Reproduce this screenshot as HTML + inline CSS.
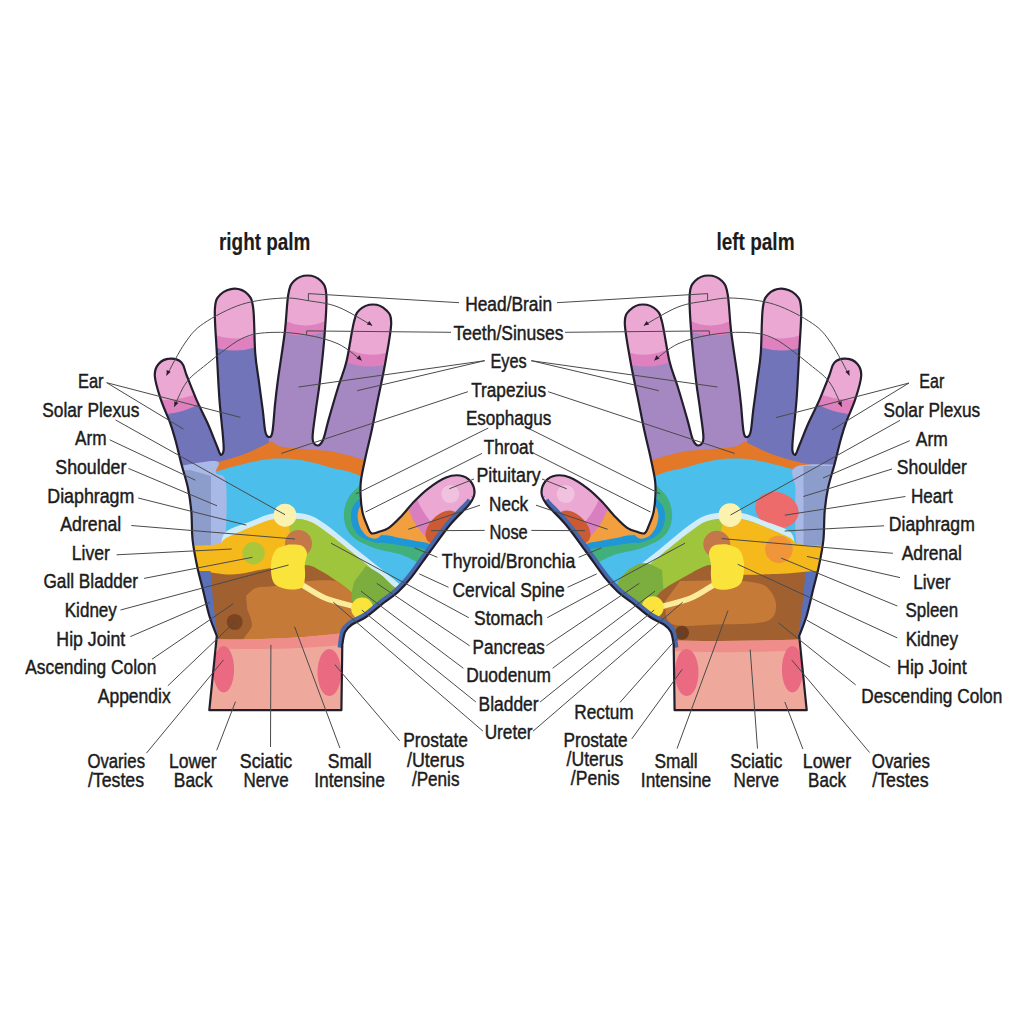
<!DOCTYPE html><html><head><meta charset="utf-8"><style>html,body{margin:0;padding:0;background:#fff;}svg{display:block;}text{font-family:"Liberation Sans",sans-serif;fill:#1c1c1c;stroke:#1c1c1c;stroke-width:0.45px;}</style></head><body>
<svg width="1024" height="1015" viewBox="0 0 1024 1015">
<rect width="1024" height="1015" fill="#fff"/>
<defs><clipPath id="cl"><path d="M209.3 710.2 L216.8 636 C215.6 632.6 211.7 623.7 209.3 615.8 C207.0 607.9 204.7 596.9 202.7 588.8 C200.7 580.7 199.0 575.1 197.3 567.0 C195.6 558.9 193.6 549.3 192.6 540.0 C191.6 530.7 192.1 519.8 191.3 511.0 C190.5 502.2 189.5 495.2 187.8 487.3 C186.1 479.4 183.4 471.5 181.3 463.6 C179.2 455.7 177.3 446.8 175.4 440.0 C173.5 433.2 172.6 429.6 170.1 422.8 C167.6 416.0 163.2 406.9 160.7 399.1 C158.1 391.3 155.2 381.9 154.8 376.0 C154.5 370.1 156.1 366.9 158.6 364.0 C161.1 361.1 166.0 358.9 169.8 358.7 C173.6 358.4 178.7 359.7 181.5 362.5 C184.3 365.3 184.2 369.4 186.7 375.5 C189.1 381.6 192.8 391.2 196.2 399.1 C199.6 407.0 204.0 415.2 207.4 422.8 C210.8 430.4 214.3 439.7 216.5 445.0 C218.7 450.3 219.3 453.6 220.5 454.5 C221.7 455.4 223.2 453.8 223.6 450.5 C224.0 447.2 223.5 443.2 222.8 434.6 C222.1 426.0 220.4 412.6 219.4 399.0 C218.4 385.4 217.6 367.8 216.8 352.8 C216.1 337.8 214.3 318.7 214.9 309.0 C215.5 299.3 217.1 297.9 220.4 294.5 C223.7 291.1 230.0 288.6 234.6 288.6 C239.2 288.6 244.9 291.1 248.0 294.5 C251.1 297.9 252.1 299.3 253.3 309.0 C254.5 318.7 254.3 341.0 255.2 352.8 C256.1 364.6 257.4 370.5 258.7 380.0 C259.9 389.5 261.6 401.0 262.7 409.6 C263.8 418.2 264.3 426.9 265.3 431.5 C266.3 436.1 267.4 436.7 268.6 436.9 C269.8 437.1 271.2 437.9 272.3 432.5 C273.4 427.1 274.1 413.4 275.0 404.6 C275.9 395.9 276.3 392.1 277.9 380.0 C279.5 367.9 283.1 346.2 284.8 332.0 C286.5 317.8 286.8 303.0 288.3 294.5 C289.8 286.0 290.8 284.2 294.0 281.0 C297.2 277.8 303.1 275.5 307.6 275.5 C312.1 275.5 317.9 277.8 321.0 281.0 C324.1 284.2 325.7 286.0 326.3 294.5 C326.9 303.0 325.9 317.7 324.8 332.0 C323.8 346.3 321.5 367.4 320.0 380.3 C318.5 393.2 317.1 399.9 315.9 409.6 C314.7 419.3 312.3 432.5 312.6 438.5 C312.9 444.5 315.7 445.3 317.5 445.5 C319.3 445.7 321.3 443.9 323.2 439.5 C325.1 435.1 326.1 428.3 328.7 419.4 C331.2 410.5 335.5 395.7 338.5 386.0 C341.5 376.3 344.1 371.5 346.6 361.0 C349.1 350.5 351.6 331.5 353.7 323.0 C355.8 314.5 356.2 313.1 359.4 310.0 C362.6 306.9 368.6 304.5 373.0 304.5 C377.4 304.5 383.0 306.9 386.0 310.0 C389.0 313.1 391.3 314.5 391.2 323.0 C391.1 331.5 387.7 348.8 385.6 361.0 C383.5 373.2 380.9 384.6 378.5 396.4 C376.1 408.2 373.5 422.0 371.4 431.8 C369.3 441.6 367.7 447.0 366.0 455.0 C364.3 463.0 361.9 473.2 361.0 480.0 C360.1 486.8 360.4 490.6 360.6 496.0 C360.9 501.4 361.4 507.2 362.5 512.2 C363.6 517.2 365.8 522.4 367.3 525.9 C368.8 529.4 369.4 532.2 371.3 533.2 C373.2 534.2 376.1 532.7 379.0 531.8 C381.9 530.9 385.2 530.3 388.8 527.9 C392.4 525.5 396.3 521.5 400.5 517.1 C404.7 512.7 409.6 506.2 414.2 501.5 C418.8 496.8 422.6 492.8 427.9 488.8 C433.2 484.8 440.6 479.7 446.0 477.5 C451.4 475.3 455.9 474.9 460.0 475.5 C464.1 476.1 468.1 478.4 470.5 481.3 C472.9 484.2 474.6 489.1 474.5 492.8 C474.4 496.6 473.7 498.5 469.7 503.8 C465.7 509.1 457.0 516.5 450.3 524.5 C443.6 532.5 436.1 543.3 429.7 552.0 C423.3 560.7 417.0 570.2 411.7 576.9 C406.4 583.6 402.7 587.6 398.0 592.0 C393.3 596.4 388.8 598.8 383.5 603.0 C378.2 607.2 371.2 613.4 366.0 617.0 C360.8 620.6 355.5 622.0 352.0 624.5 C348.5 627.0 346.6 628.6 345.0 632.0 C343.4 635.4 342.8 642.5 342.3 644.6 L341.4 710.2 Z"/></clipPath></defs>
<g clip-path="url(#cl)"><rect x="140" y="260" width="350" height="460" fill="#7274BA"/>
<path d="M268.6 436 L272 480 L490 480 L490 260 L272 260 Z" fill="#A587C2"/>
<path d="M150 411 Q171 420 205 401 L205 301 L150 311 Z" fill="#DE81BE"/>
<path d="M150 398 Q173 404 205 391 L205 291 L150 298 Z" fill="#EBA8D2"/>
<path d="M208 345 Q235 356 262 345 L262 245 L208 245 Z" fill="#DE81BE"/>
<path d="M208 332 Q235 345 262 332 L262 232 L208 232 Z" fill="#EBA8D2"/>
<path d="M280 332 Q304 340 330 330 L330 230 L280 232 Z" fill="#DE81BE"/>
<path d="M280 318 Q306 333 331 318 L331 218 L280 218 Z" fill="#EBA8D2"/>
<path d="M342 360 Q365 372 396 362 L396 262 L342 260 Z" fill="#DE81BE"/>
<path d="M342 346 Q370 362 396 349 L396 249 L342 246 Z" fill="#EBA8D2"/>
<path d="M150 480 L200 466 Q240 458 258 448 Q267 444 271.5 441 Q276 446 283 447 Q300 449 330 451 Q350 455 370 462 L400 500 L150 500 Z" fill="#E27828"/>
<path d="M150.0 492.0 C160.9 488.6 197.4 476.8 215.6 471.5 C233.8 466.2 248.0 462.6 259.3 460.5 C270.7 458.4 275.6 458.4 283.7 458.6 C291.8 458.8 300.3 460.0 308.0 461.5 C315.7 463.0 320.5 464.6 330.0 467.4 C339.5 470.1 346.7 469.2 365.0 478.0 C383.3 486.8 427.5 496.3 440.0 520.0 C452.5 543.7 488.3 603.3 440.0 620.0 C391.7 636.7 198.3 620.0 150.0 620.0 Z" fill="#4BBEEB"/><path d="M150.0 472.0 C160.7 470.2 203.0 460.8 214.0 461.0 C225.0 461.2 214.0 469.5 216.0 473.0 C218.0 476.5 224.2 471.7 225.8 482.0 C227.4 492.3 226.4 524.5 225.8 535.0 C225.2 545.5 224.3 543.1 222.0 545.0 C219.7 546.9 224.0 546.2 212.0 546.5 C200.0 546.8 160.3 546.5 150.0 546.5 Z" fill="#A8B9E7"/>
<path d="M150 474 L190 470 L211 476 L211 546.5 L150 546.5 Z" fill="#8C9DCB"/>
<path d="M150.0 552.0 C160.3 552.0 199.4 555.3 212.0 552.0 C224.6 548.7 219.3 537.1 225.8 532.0 C232.3 526.9 242.8 524.5 251.0 521.3 C259.2 518.1 265.9 514.2 274.9 513.0 C283.9 511.8 296.6 512.2 305.0 514.0 C313.4 515.8 316.6 518.1 325.2 524.0 C333.8 529.9 347.5 542.0 356.7 549.4 C365.9 556.8 373.2 562.5 380.3 568.3 C387.4 574.1 391.0 577.0 399.3 584.0 C407.6 591.0 424.9 587.3 430.0 610.0 C435.1 632.7 476.7 701.7 430.0 720.0 C383.3 738.3 196.7 720.0 150.0 720.0 Z" fill="#D0ECF8"/>
<path d="M150.0 545.0 C160.3 545.0 199.2 546.2 212.0 545.0 C224.8 543.8 220.5 540.5 227.0 537.5 C233.5 534.5 243.0 530.1 251.0 527.0 C259.0 523.9 266.0 520.2 275.0 519.0 C284.0 517.8 297.0 518.2 305.0 520.0 C313.0 521.8 314.8 523.8 323.0 529.5 C331.2 535.2 345.0 546.7 354.0 554.0 C363.0 561.3 370.0 567.7 377.0 573.5 C384.0 579.3 388.0 582.1 396.0 589.0 C404.0 595.9 420.2 593.2 425.0 615.0 C429.8 636.8 470.8 702.5 425.0 720.0 C379.2 737.5 195.8 720.0 150.0 720.0 Z" fill="#F6B91B"/>
<path d="M289.0 519.0 C291.7 519.2 299.3 518.2 305.0 520.0 C310.7 521.8 314.8 523.8 323.0 529.5 C331.2 535.2 345.0 546.7 354.0 554.0 C363.0 561.3 370.0 567.7 377.0 573.5 C384.0 579.3 390.5 583.8 396.0 589.0 C401.5 594.2 417.2 604.2 410.0 605.0 C402.8 605.8 365.1 597.9 353.0 594.0 C340.9 590.1 342.6 585.3 337.3 581.5 C332.1 577.7 326.9 574.0 321.5 571.3 C316.1 568.5 309.4 567.7 305.0 565.0 C300.6 562.3 297.5 560.0 295.0 555.0 C292.5 550.0 290.8 538.3 290.0 535.0 Z" fill="#9EC53B"/>
<path d="M150.0 571.0 C157.8 571.0 183.1 570.4 196.8 571.0 C210.5 571.6 220.2 574.9 232.0 574.5 C243.8 574.1 255.6 570.2 267.8 568.6 C280.0 567.0 296.1 564.5 305.0 565.0 C313.9 565.5 316.1 568.5 321.5 571.3 C326.9 574.0 332.1 577.7 337.3 581.5 C342.6 585.3 347.9 588.9 353.0 594.0 C358.1 599.1 361.8 604.3 368.0 612.0 C374.2 619.7 401.3 632.0 390.0 640.0 C378.7 648.0 340.0 656.7 300.0 660.0 C260.0 663.3 175.0 660.0 150.0 660.0 Z" fill="#A0602F"/>
<path d="M246.0 596.0 C247.7 594.7 251.2 589.7 256.0 588.0 C260.8 586.3 266.8 587.1 275.0 586.0 C283.2 584.9 295.2 582.4 305.0 581.5 C314.8 580.6 327.3 579.8 334.0 580.7 C340.7 581.6 341.8 584.8 345.0 587.0 C348.2 589.2 349.2 589.8 353.0 594.0 C356.8 598.2 365.2 602.7 368.0 612.0 C370.8 621.3 389.7 643.7 370.0 650.0 C350.3 656.3 269.7 654.2 250.0 650.0 C230.3 645.8 252.4 631.8 252.0 625.0 C251.6 618.2 248.1 612.0 247.3 609.4 Z" fill="#C67A38"/>
<path d="M366.0 566.0 C368.3 567.3 375.5 570.7 380.0 574.0 C384.5 577.3 389.3 582.7 393.0 586.0 C396.7 589.3 402.5 589.7 402.0 594.0 C401.5 598.3 396.2 608.7 390.0 612.0 C383.8 615.3 371.3 616.0 365.0 614.0 C358.7 612.0 353.8 605.3 352.0 600.0 C350.2 594.7 353.7 585.0 354.0 582.0 Z" fill="#7BAE3F"/>
<circle cx="234.7" cy="622" r="8" fill="#7A4520"/>
<path d="M150 571 L210.5 571 L213 600 L216 625 L219 640 L150 640 Z" fill="#5A70B8"/>
<circle cx="253.6" cy="553.2" r="11.2" fill="#AAC73B"/>
<circle cx="298.5" cy="543.5" r="13.5" fill="#C47849"/>
<path d="M304.0 586.0 C307.5 588.0 317.0 594.7 325.0 598.0 C333.0 601.3 347.5 604.7 352.0 606.0" fill="none" stroke="#FBEC9C" stroke-width="5.5" stroke-linecap="round" stroke-linejoin="round"/>
<path d="M289.0 544.5 C291.1 544.7 298.4 544.1 301.4 545.5 C304.4 546.9 306.3 549.6 306.9 552.8 C307.5 556.0 305.1 560.5 304.8 564.5 C304.5 568.5 305.5 573.2 305.0 577.0 C304.5 580.8 304.8 585.5 302.0 587.5 C299.2 589.5 292.7 590.0 288.0 589.3 C283.3 588.5 276.8 587.0 274.0 583.0 C271.2 579.0 270.7 570.5 271.0 565.0 C271.3 559.5 272.9 553.4 275.9 550.0 C278.9 546.6 286.8 545.4 289.0 544.5 Z" fill="#FAE43B"/>
<circle cx="362.2" cy="608.5" r="11" fill="#FAE43B"/>
<circle cx="285" cy="515.2" r="11.5" fill="#FCF2AF"/>
<path d="M150 637 Q270 644 360 631 L360 720 L150 720 Z" fill="#EFA99C"/>
<path d="M150 637 Q270 644 360 631 L360 643 Q270 654 150 645 Z" fill="#EE8D89"/><path d="M360.0 485.0 C358.2 487.0 351.7 492.5 349.0 497.0 C346.3 501.5 344.5 507.0 344.0 512.0 C343.5 517.0 344.3 522.7 346.0 527.0 C347.7 531.3 350.2 534.8 354.0 538.0 C357.8 541.2 364.5 544.0 369.0 546.0 C373.5 548.0 375.7 548.6 381.0 550.0 C386.3 551.4 395.3 552.7 401.0 554.5 C406.7 556.3 409.8 558.8 415.0 561.0 C420.2 563.2 427.8 572.3 432.0 568.0 C436.2 563.7 445.3 539.7 440.0 535.0 C434.7 530.3 411.7 540.0 400.0 540.0 C388.3 540.0 377.0 540.0 370.0 535.0 C363.0 530.0 360.0 514.2 358.0 510.0 Z" fill="#41B07B"/>
<path d="M362.0 497.0 C360.8 498.2 356.3 501.2 354.5 504.0 C352.7 506.8 351.2 510.2 351.0 514.0 C350.8 517.8 351.3 523.2 353.0 527.0 C354.7 530.8 357.3 534.4 361.0 537.0 C364.7 539.6 371.0 541.5 375.0 542.5 C379.0 543.5 380.0 542.4 385.0 543.0 C390.0 543.6 397.8 544.9 405.0 546.0 C412.2 547.1 422.2 548.8 428.0 549.5 C433.8 550.2 438.0 552.4 440.0 550.0 C442.0 547.6 446.7 537.3 440.0 535.0 C433.3 532.7 411.7 536.5 400.0 536.0 C388.3 535.5 376.7 535.5 370.0 532.0 C363.3 528.5 361.7 517.8 360.0 515.0 Z" fill="#1F97D6"/>
<path d="M361.0 505.0 C360.6 505.8 359.1 508.0 358.5 510.0 C357.9 512.0 357.4 514.3 357.6 517.1 C357.9 519.9 358.7 524.1 360.0 527.0 C361.3 529.9 363.6 532.9 365.4 534.7 C367.2 536.5 369.1 537.4 371.0 538.0 C372.9 538.6 374.9 538.9 377.1 538.3 C379.3 537.7 380.2 534.5 384.0 534.5 C387.8 534.5 393.2 536.7 400.0 538.0 C406.8 539.3 418.3 541.5 425.0 542.5 C431.7 543.5 436.7 549.4 440.0 544.0 C443.3 538.6 448.3 517.3 445.0 510.0 C441.7 502.7 429.2 498.3 420.0 500.0 C410.8 501.7 398.0 515.3 390.0 520.0 C382.0 524.7 375.0 526.7 372.0 528.0 Z" fill="#F2A03F"/>
<path d="M398 470 L409 510.7 Q415 527 428.3 539 L490 560 L490 440 Z" fill="#D97FC0"/>
<path d="M405 462 L418 501.4 Q423 513 431 522 L490 545 L490 440 Z" fill="#EAA8D3"/>
<circle cx="450.3" cy="494.1" r="9" fill="#F1C2DF"/>
<ellipse cx="442" cy="527" rx="20" ry="12" transform="rotate(-45 442 527)" fill="#CC5A32"/><ellipse cx="223.6" cy="669.3" rx="10.5" ry="23.2" fill="#EA6A82"/>
<ellipse cx="329.3" cy="672.5" rx="11.8" ry="23.6" fill="#EA6A82"/>
<path d="M471.5 501.0 C471.2 501.5 473.2 499.9 469.7 503.8 C466.2 507.7 457.0 516.5 450.3 524.5 C443.6 532.5 436.1 543.3 429.7 552.0 C423.3 560.7 417.0 570.2 411.7 576.9 C406.4 583.6 402.7 587.6 398.0 592.0 C393.3 596.4 388.8 598.8 383.5 603.0 C378.2 607.2 371.2 613.4 366.0 617.0 C360.8 620.6 355.5 622.0 352.0 624.5 C348.5 627.0 346.6 628.1 345.0 632.0 C343.4 635.9 342.8 645.3 342.3 648.0" fill="none" stroke="#4866AA" stroke-width="9.5" stroke-linecap="butt" stroke-linejoin="round"/></g><path d="M209.3 710.2 L216.8 636 C215.6 632.6 211.7 623.7 209.3 615.8 C207.0 607.9 204.7 596.9 202.7 588.8 C200.7 580.7 199.0 575.1 197.3 567.0 C195.6 558.9 193.6 549.3 192.6 540.0 C191.6 530.7 192.1 519.8 191.3 511.0 C190.5 502.2 189.5 495.2 187.8 487.3 C186.1 479.4 183.4 471.5 181.3 463.6 C179.2 455.7 177.3 446.8 175.4 440.0 C173.5 433.2 172.6 429.6 170.1 422.8 C167.6 416.0 163.2 406.9 160.7 399.1 C158.1 391.3 155.2 381.9 154.8 376.0 C154.5 370.1 156.1 366.9 158.6 364.0 C161.1 361.1 166.0 358.9 169.8 358.7 C173.6 358.4 178.7 359.7 181.5 362.5 C184.3 365.3 184.2 369.4 186.7 375.5 C189.1 381.6 192.8 391.2 196.2 399.1 C199.6 407.0 204.0 415.2 207.4 422.8 C210.8 430.4 214.3 439.7 216.5 445.0 C218.7 450.3 219.3 453.6 220.5 454.5 C221.7 455.4 223.2 453.8 223.6 450.5 C224.0 447.2 223.5 443.2 222.8 434.6 C222.1 426.0 220.4 412.6 219.4 399.0 C218.4 385.4 217.6 367.8 216.8 352.8 C216.1 337.8 214.3 318.7 214.9 309.0 C215.5 299.3 217.1 297.9 220.4 294.5 C223.7 291.1 230.0 288.6 234.6 288.6 C239.2 288.6 244.9 291.1 248.0 294.5 C251.1 297.9 252.1 299.3 253.3 309.0 C254.5 318.7 254.3 341.0 255.2 352.8 C256.1 364.6 257.4 370.5 258.7 380.0 C259.9 389.5 261.6 401.0 262.7 409.6 C263.8 418.2 264.3 426.9 265.3 431.5 C266.3 436.1 267.4 436.7 268.6 436.9 C269.8 437.1 271.2 437.9 272.3 432.5 C273.4 427.1 274.1 413.4 275.0 404.6 C275.9 395.9 276.3 392.1 277.9 380.0 C279.5 367.9 283.1 346.2 284.8 332.0 C286.5 317.8 286.8 303.0 288.3 294.5 C289.8 286.0 290.8 284.2 294.0 281.0 C297.2 277.8 303.1 275.5 307.6 275.5 C312.1 275.5 317.9 277.8 321.0 281.0 C324.1 284.2 325.7 286.0 326.3 294.5 C326.9 303.0 325.9 317.7 324.8 332.0 C323.8 346.3 321.5 367.4 320.0 380.3 C318.5 393.2 317.1 399.9 315.9 409.6 C314.7 419.3 312.3 432.5 312.6 438.5 C312.9 444.5 315.7 445.3 317.5 445.5 C319.3 445.7 321.3 443.9 323.2 439.5 C325.1 435.1 326.1 428.3 328.7 419.4 C331.2 410.5 335.5 395.7 338.5 386.0 C341.5 376.3 344.1 371.5 346.6 361.0 C349.1 350.5 351.6 331.5 353.7 323.0 C355.8 314.5 356.2 313.1 359.4 310.0 C362.6 306.9 368.6 304.5 373.0 304.5 C377.4 304.5 383.0 306.9 386.0 310.0 C389.0 313.1 391.3 314.5 391.2 323.0 C391.1 331.5 387.7 348.8 385.6 361.0 C383.5 373.2 380.9 384.6 378.5 396.4 C376.1 408.2 373.5 422.0 371.4 431.8 C369.3 441.6 367.7 447.0 366.0 455.0 C364.3 463.0 361.9 473.2 361.0 480.0 C360.1 486.8 360.4 490.6 360.6 496.0 C360.9 501.4 361.4 507.2 362.5 512.2 C363.6 517.2 365.8 522.4 367.3 525.9 C368.8 529.4 369.4 532.2 371.3 533.2 C373.2 534.2 376.1 532.7 379.0 531.8 C381.9 530.9 385.2 530.3 388.8 527.9 C392.4 525.5 396.3 521.5 400.5 517.1 C404.7 512.7 409.6 506.2 414.2 501.5 C418.8 496.8 422.6 492.8 427.9 488.8 C433.2 484.8 440.6 479.7 446.0 477.5 C451.4 475.3 455.9 474.9 460.0 475.5 C464.1 476.1 468.1 478.4 470.5 481.3 C472.9 484.2 474.6 489.1 474.5 492.8 C474.4 496.6 473.7 498.5 469.7 503.8 C465.7 509.1 457.0 516.5 450.3 524.5 C443.6 532.5 436.1 543.3 429.7 552.0 C423.3 560.7 417.0 570.2 411.7 576.9 C406.4 583.6 402.7 587.6 398.0 592.0 C393.3 596.4 388.8 598.8 383.5 603.0 C378.2 607.2 371.2 613.4 366.0 617.0 C360.8 620.6 355.5 622.0 352.0 624.5 C348.5 627.0 346.6 628.6 345.0 632.0 C343.4 635.4 342.8 642.5 342.3 644.6 L341.4 710.2 Z" fill="none" stroke="#221E2C" stroke-width="2.2" stroke-linejoin="round"/>
<g transform="translate(1016 0) scale(-1 1)"><g clip-path="url(#cl)"><rect x="140" y="260" width="350" height="460" fill="#7274BA"/>
<path d="M268.6 436 L272 480 L490 480 L490 260 L272 260 Z" fill="#A587C2"/>
<path d="M150 411 Q171 420 205 401 L205 301 L150 311 Z" fill="#DE81BE"/>
<path d="M150 398 Q173 404 205 391 L205 291 L150 298 Z" fill="#EBA8D2"/>
<path d="M208 345 Q235 356 262 345 L262 245 L208 245 Z" fill="#DE81BE"/>
<path d="M208 332 Q235 345 262 332 L262 232 L208 232 Z" fill="#EBA8D2"/>
<path d="M280 332 Q304 340 330 330 L330 230 L280 232 Z" fill="#DE81BE"/>
<path d="M280 318 Q306 333 331 318 L331 218 L280 218 Z" fill="#EBA8D2"/>
<path d="M342 360 Q365 372 396 362 L396 262 L342 260 Z" fill="#DE81BE"/>
<path d="M342 346 Q370 362 396 349 L396 249 L342 246 Z" fill="#EBA8D2"/>
<path d="M150 480 L200 466 Q240 458 258 448 Q267 444 271.5 441 Q276 446 283 447 Q300 449 330 451 Q350 455 370 462 L400 500 L150 500 Z" fill="#E27828"/>
<path d="M150.0 492.0 C160.9 488.6 197.4 476.8 215.6 471.5 C233.8 466.2 248.0 462.6 259.3 460.5 C270.7 458.4 275.6 458.4 283.7 458.6 C291.8 458.8 300.3 460.0 308.0 461.5 C315.7 463.0 320.5 464.6 330.0 467.4 C339.5 470.1 346.7 469.2 365.0 478.0 C383.3 486.8 427.5 496.3 440.0 520.0 C452.5 543.7 488.3 603.3 440.0 620.0 C391.7 636.7 198.3 620.0 150.0 620.0 Z" fill="#4BBEEB"/><path d="M150.0 466.0 C161.3 466.0 206.2 462.0 218.0 466.0 C229.8 470.0 220.1 478.5 220.5 490.0 C220.9 501.5 220.9 525.8 220.5 535.0 C220.1 544.2 219.4 543.1 218.0 545.0 C216.6 546.9 223.3 546.2 212.0 546.5 C200.7 546.8 160.3 546.5 150.0 546.5 Z" fill="#A8B9E7"/>
<path d="M150 466 L212.5 466 L212.5 546.5 L150 546.5 Z" fill="#8C9DCB"/>
<ellipse cx="239" cy="509.8" rx="22" ry="17.5" transform="rotate(-18 239 509.8)" fill="#EE6B6B"/>
<path d="M150.0 552.0 C160.3 552.0 199.4 555.3 212.0 552.0 C224.6 548.7 219.3 537.1 225.8 532.0 C232.3 526.9 242.8 524.5 251.0 521.3 C259.2 518.1 265.9 514.2 274.9 513.0 C283.9 511.8 296.6 512.2 305.0 514.0 C313.4 515.8 316.6 518.1 325.2 524.0 C333.8 529.9 347.5 542.0 356.7 549.4 C365.9 556.8 373.2 562.5 380.3 568.3 C387.4 574.1 391.0 577.0 399.3 584.0 C407.6 591.0 424.9 587.3 430.0 610.0 C435.1 632.7 476.7 701.7 430.0 720.0 C383.3 738.3 196.7 720.0 150.0 720.0 Z" fill="#D0ECF8"/>
<path d="M150.0 545.0 C160.3 545.0 199.2 546.2 212.0 545.0 C224.8 543.8 220.5 540.5 227.0 537.5 C233.5 534.5 243.0 530.1 251.0 527.0 C259.0 523.9 266.0 520.2 275.0 519.0 C284.0 517.8 297.0 518.2 305.0 520.0 C313.0 521.8 314.8 523.8 323.0 529.5 C331.2 535.2 345.0 546.7 354.0 554.0 C363.0 561.3 370.0 567.7 377.0 573.5 C384.0 579.3 388.0 582.1 396.0 589.0 C404.0 595.9 420.2 593.2 425.0 615.0 C429.8 636.8 470.8 702.5 425.0 720.0 C379.2 737.5 195.8 720.0 150.0 720.0 Z" fill="#9EC53B"/>
<path d="M150.0 545.0 C160.3 545.0 199.2 546.2 212.0 545.0 C224.8 543.8 220.5 540.5 227.0 537.5 C233.5 534.5 243.0 530.1 251.0 527.0 C259.0 523.9 268.2 520.5 275.0 519.0 C281.8 517.5 289.2 508.7 292.0 518.0 C294.8 527.3 300.7 565.5 292.0 575.0 C283.3 584.5 256.0 575.5 240.0 575.0 C224.0 574.5 211.0 572.5 196.0 572.0 C181.0 571.5 157.7 572.0 150.0 572.0 Z" fill="#F6B91B"/>
<path d="M354.0 570.0 C357.0 568.8 366.0 562.7 372.0 563.0 C378.0 563.3 385.3 567.8 390.0 572.0 C394.7 576.2 399.2 583.0 400.0 588.0 C400.8 593.0 400.3 598.0 395.0 602.0 C389.7 606.0 375.2 612.7 368.0 612.0 C360.8 611.3 354.7 600.3 352.0 598.0 Z" fill="#7BAE3F"/>
<path d="M150.0 571.0 C157.8 571.0 181.8 570.5 196.8 571.0 C211.8 571.5 224.1 573.5 240.0 574.0 C255.9 574.5 281.0 575.5 292.0 574.0 C303.0 572.5 299.7 564.7 306.0 565.0 C312.3 565.3 321.7 571.4 330.0 576.0 C338.3 580.6 349.7 586.4 356.0 592.4 C362.3 598.4 362.3 604.1 368.0 612.0 C373.7 619.9 401.3 632.0 390.0 640.0 C378.7 648.0 340.0 656.7 300.0 660.0 C260.0 663.3 175.0 660.0 150.0 660.0 Z" fill="#A0602F"/>
<path d="M336.0 581.0 C330.0 580.9 310.5 580.5 300.0 580.5 C289.5 580.5 281.3 580.0 273.0 581.0 C264.7 582.0 255.5 582.5 250.0 586.5 C244.5 590.5 240.0 599.0 240.0 604.8 C240.0 610.6 240.0 618.2 250.0 621.5 C260.0 624.8 284.3 624.1 300.0 624.5 C315.7 624.9 335.5 627.8 344.0 624.0 C352.5 620.2 349.8 605.2 351.0 601.5 Z" fill="#C67A38"/>
<circle cx="334" cy="632.7" r="7" fill="#6E3E1E"/>
<path d="M150 572 L210.5 572 L213 600 L216 625 L219 640 L150 640 Z" fill="#5A70B8"/>
<circle cx="237.1" cy="549.2" r="13.8" fill="#F0953A"/>
<circle cx="299.2" cy="544.3" r="13.5" fill="#C47849"/>
<path d="M304.0 586.0 C307.5 588.0 317.0 594.7 325.0 598.0 C333.0 601.3 347.5 604.7 352.0 606.0" fill="none" stroke="#FBEC9C" stroke-width="5.5" stroke-linecap="round" stroke-linejoin="round"/>
<path d="M289.5 544.3 C291.6 544.5 299.1 544.1 302.0 545.5 C304.9 546.9 306.5 549.6 307.0 552.8 C307.5 556.0 305.3 560.5 305.0 564.5 C304.7 568.5 305.5 573.2 305.0 577.0 C304.5 580.8 304.8 585.4 302.0 587.5 C299.2 589.6 293.0 590.2 288.5 589.5 C284.0 588.8 277.8 587.1 275.0 583.0 C272.2 578.9 271.8 570.5 272.0 565.0 C272.2 559.5 273.6 553.5 276.5 550.0 C279.4 546.5 287.3 545.2 289.5 544.3 Z" fill="#FAE43B"/>
<circle cx="363.2" cy="607.3" r="11" fill="#FAE43B"/>
<circle cx="285.8" cy="515.1" r="11.8" fill="#FCF2AF"/>
<path d="M150 637 Q270 643 360 640 L360 720 L150 720 Z" fill="#EFA99C"/>
<path d="M150 637 Q270 643 360 640 L360 650 Q270 656 150 646 Z" fill="#EE8D89"/><path d="M360.0 485.0 C358.2 487.0 351.7 492.5 349.0 497.0 C346.3 501.5 344.5 507.0 344.0 512.0 C343.5 517.0 344.3 522.7 346.0 527.0 C347.7 531.3 350.2 534.8 354.0 538.0 C357.8 541.2 364.5 544.0 369.0 546.0 C373.5 548.0 375.7 548.6 381.0 550.0 C386.3 551.4 395.3 552.7 401.0 554.5 C406.7 556.3 409.8 558.8 415.0 561.0 C420.2 563.2 427.8 572.3 432.0 568.0 C436.2 563.7 445.3 539.7 440.0 535.0 C434.7 530.3 411.7 540.0 400.0 540.0 C388.3 540.0 377.0 540.0 370.0 535.0 C363.0 530.0 360.0 514.2 358.0 510.0 Z" fill="#41B07B"/>
<path d="M362.0 497.0 C360.8 498.2 356.3 501.2 354.5 504.0 C352.7 506.8 351.2 510.2 351.0 514.0 C350.8 517.8 351.3 523.2 353.0 527.0 C354.7 530.8 357.3 534.4 361.0 537.0 C364.7 539.6 371.0 541.5 375.0 542.5 C379.0 543.5 380.0 542.4 385.0 543.0 C390.0 543.6 397.8 544.9 405.0 546.0 C412.2 547.1 422.2 548.8 428.0 549.5 C433.8 550.2 438.0 552.4 440.0 550.0 C442.0 547.6 446.7 537.3 440.0 535.0 C433.3 532.7 411.7 536.5 400.0 536.0 C388.3 535.5 376.7 535.5 370.0 532.0 C363.3 528.5 361.7 517.8 360.0 515.0 Z" fill="#1F97D6"/>
<path d="M361.0 505.0 C360.6 505.8 359.1 508.0 358.5 510.0 C357.9 512.0 357.4 514.3 357.6 517.1 C357.9 519.9 358.7 524.1 360.0 527.0 C361.3 529.9 363.6 532.9 365.4 534.7 C367.2 536.5 369.1 537.4 371.0 538.0 C372.9 538.6 374.9 538.9 377.1 538.3 C379.3 537.7 380.2 534.5 384.0 534.5 C387.8 534.5 393.2 536.7 400.0 538.0 C406.8 539.3 418.3 541.5 425.0 542.5 C431.7 543.5 436.7 549.4 440.0 544.0 C443.3 538.6 448.3 517.3 445.0 510.0 C441.7 502.7 429.2 498.3 420.0 500.0 C410.8 501.7 398.0 515.3 390.0 520.0 C382.0 524.7 375.0 526.7 372.0 528.0 Z" fill="#F2A03F"/>
<path d="M398 470 L409 510.7 Q415 527 428.3 539 L490 560 L490 440 Z" fill="#D97FC0"/>
<path d="M405 462 L418 501.4 Q423 513 431 522 L490 545 L490 440 Z" fill="#EAA8D3"/>
<circle cx="450.3" cy="494.1" r="9" fill="#F1C2DF"/>
<ellipse cx="442" cy="527" rx="20" ry="12" transform="rotate(-45 442 527)" fill="#CC5A32"/><ellipse cx="223.6" cy="669.3" rx="10.5" ry="23.2" fill="#EA6A82"/>
<ellipse cx="329.3" cy="672.5" rx="11.8" ry="23.6" fill="#EA6A82"/>
<path d="M471.5 501.0 C471.2 501.5 473.2 499.9 469.7 503.8 C466.2 507.7 457.0 516.5 450.3 524.5 C443.6 532.5 436.1 543.3 429.7 552.0 C423.3 560.7 417.0 570.2 411.7 576.9 C406.4 583.6 402.7 587.6 398.0 592.0 C393.3 596.4 388.8 598.8 383.5 603.0 C378.2 607.2 371.2 613.4 366.0 617.0 C360.8 620.6 355.5 622.0 352.0 624.5 C348.5 627.0 346.6 628.1 345.0 632.0 C343.4 635.9 342.8 645.3 342.3 648.0" fill="none" stroke="#4866AA" stroke-width="9.5" stroke-linecap="butt" stroke-linejoin="round"/></g><path d="M209.3 710.2 L216.8 636 C215.6 632.6 211.7 623.7 209.3 615.8 C207.0 607.9 204.7 596.9 202.7 588.8 C200.7 580.7 199.0 575.1 197.3 567.0 C195.6 558.9 193.6 549.3 192.6 540.0 C191.6 530.7 192.1 519.8 191.3 511.0 C190.5 502.2 189.5 495.2 187.8 487.3 C186.1 479.4 183.4 471.5 181.3 463.6 C179.2 455.7 177.3 446.8 175.4 440.0 C173.5 433.2 172.6 429.6 170.1 422.8 C167.6 416.0 163.2 406.9 160.7 399.1 C158.1 391.3 155.2 381.9 154.8 376.0 C154.5 370.1 156.1 366.9 158.6 364.0 C161.1 361.1 166.0 358.9 169.8 358.7 C173.6 358.4 178.7 359.7 181.5 362.5 C184.3 365.3 184.2 369.4 186.7 375.5 C189.1 381.6 192.8 391.2 196.2 399.1 C199.6 407.0 204.0 415.2 207.4 422.8 C210.8 430.4 214.3 439.7 216.5 445.0 C218.7 450.3 219.3 453.6 220.5 454.5 C221.7 455.4 223.2 453.8 223.6 450.5 C224.0 447.2 223.5 443.2 222.8 434.6 C222.1 426.0 220.4 412.6 219.4 399.0 C218.4 385.4 217.6 367.8 216.8 352.8 C216.1 337.8 214.3 318.7 214.9 309.0 C215.5 299.3 217.1 297.9 220.4 294.5 C223.7 291.1 230.0 288.6 234.6 288.6 C239.2 288.6 244.9 291.1 248.0 294.5 C251.1 297.9 252.1 299.3 253.3 309.0 C254.5 318.7 254.3 341.0 255.2 352.8 C256.1 364.6 257.4 370.5 258.7 380.0 C259.9 389.5 261.6 401.0 262.7 409.6 C263.8 418.2 264.3 426.9 265.3 431.5 C266.3 436.1 267.4 436.7 268.6 436.9 C269.8 437.1 271.2 437.9 272.3 432.5 C273.4 427.1 274.1 413.4 275.0 404.6 C275.9 395.9 276.3 392.1 277.9 380.0 C279.5 367.9 283.1 346.2 284.8 332.0 C286.5 317.8 286.8 303.0 288.3 294.5 C289.8 286.0 290.8 284.2 294.0 281.0 C297.2 277.8 303.1 275.5 307.6 275.5 C312.1 275.5 317.9 277.8 321.0 281.0 C324.1 284.2 325.7 286.0 326.3 294.5 C326.9 303.0 325.9 317.7 324.8 332.0 C323.8 346.3 321.5 367.4 320.0 380.3 C318.5 393.2 317.1 399.9 315.9 409.6 C314.7 419.3 312.3 432.5 312.6 438.5 C312.9 444.5 315.7 445.3 317.5 445.5 C319.3 445.7 321.3 443.9 323.2 439.5 C325.1 435.1 326.1 428.3 328.7 419.4 C331.2 410.5 335.5 395.7 338.5 386.0 C341.5 376.3 344.1 371.5 346.6 361.0 C349.1 350.5 351.6 331.5 353.7 323.0 C355.8 314.5 356.2 313.1 359.4 310.0 C362.6 306.9 368.6 304.5 373.0 304.5 C377.4 304.5 383.0 306.9 386.0 310.0 C389.0 313.1 391.3 314.5 391.2 323.0 C391.1 331.5 387.7 348.8 385.6 361.0 C383.5 373.2 380.9 384.6 378.5 396.4 C376.1 408.2 373.5 422.0 371.4 431.8 C369.3 441.6 367.7 447.0 366.0 455.0 C364.3 463.0 361.9 473.2 361.0 480.0 C360.1 486.8 360.4 490.6 360.6 496.0 C360.9 501.4 361.4 507.2 362.5 512.2 C363.6 517.2 365.8 522.4 367.3 525.9 C368.8 529.4 369.4 532.2 371.3 533.2 C373.2 534.2 376.1 532.7 379.0 531.8 C381.9 530.9 385.2 530.3 388.8 527.9 C392.4 525.5 396.3 521.5 400.5 517.1 C404.7 512.7 409.6 506.2 414.2 501.5 C418.8 496.8 422.6 492.8 427.9 488.8 C433.2 484.8 440.6 479.7 446.0 477.5 C451.4 475.3 455.9 474.9 460.0 475.5 C464.1 476.1 468.1 478.4 470.5 481.3 C472.9 484.2 474.6 489.1 474.5 492.8 C474.4 496.6 473.7 498.5 469.7 503.8 C465.7 509.1 457.0 516.5 450.3 524.5 C443.6 532.5 436.1 543.3 429.7 552.0 C423.3 560.7 417.0 570.2 411.7 576.9 C406.4 583.6 402.7 587.6 398.0 592.0 C393.3 596.4 388.8 598.8 383.5 603.0 C378.2 607.2 371.2 613.4 366.0 617.0 C360.8 620.6 355.5 622.0 352.0 624.5 C348.5 627.0 346.6 628.6 345.0 632.0 C343.4 635.4 342.8 642.5 342.3 644.6 L341.4 710.2 Z" fill="none" stroke="#221E2C" stroke-width="2.2" stroke-linejoin="round"/></g>
<line x1="106.7" y1="382.7" x2="183.6" y2="429.2" stroke="#4a4a4a" stroke-width="1"/>
<line x1="106.7" y1="382.7" x2="240.5" y2="417.4" stroke="#4a4a4a" stroke-width="1"/>
<line x1="115.6" y1="420.0" x2="285.0" y2="514.7" stroke="#4a4a4a" stroke-width="1"/>
<line x1="109.7" y1="439.8" x2="195.4" y2="480.2" stroke="#4a4a4a" stroke-width="1"/>
<line x1="128.4" y1="468.4" x2="217.0" y2="505.8" stroke="#4a4a4a" stroke-width="1"/>
<line x1="138.2" y1="498.0" x2="246.3" y2="525.1" stroke="#4a4a4a" stroke-width="1"/>
<line x1="131.3" y1="525.5" x2="295.0" y2="539.0" stroke="#4a4a4a" stroke-width="1"/>
<line x1="116.6" y1="554.8" x2="231.7" y2="549.0" stroke="#4a4a4a" stroke-width="1"/>
<line x1="144.1" y1="578.4" x2="252.4" y2="557.3" stroke="#4a4a4a" stroke-width="1"/>
<line x1="120.5" y1="610.0" x2="288.5" y2="565.0" stroke="#4a4a4a" stroke-width="1"/>
<line x1="130.3" y1="636.6" x2="210.2" y2="602.3" stroke="#4a4a4a" stroke-width="1"/>
<line x1="152.0" y1="659.2" x2="233.1" y2="603.9" stroke="#4a4a4a" stroke-width="1"/>
<line x1="167.8" y1="685.8" x2="234.7" y2="622.0" stroke="#4a4a4a" stroke-width="1"/>
<line x1="146.4" y1="753.2" x2="223.6" y2="659.8" stroke="#4a4a4a" stroke-width="1"/>
<line x1="216.7" y1="750.3" x2="235.5" y2="701.6" stroke="#4a4a4a" stroke-width="1"/>
<line x1="270.5" y1="747.0" x2="270.9" y2="644.9" stroke="#4a4a4a" stroke-width="1"/>
<line x1="339.9" y1="748.0" x2="294.6" y2="626.7" stroke="#4a4a4a" stroke-width="1"/>
<line x1="399.7" y1="740.8" x2="334.8" y2="664.6" stroke="#4a4a4a" stroke-width="1"/>
<line x1="459.0" y1="302.7" x2="308.4" y2="293.6" stroke="#4a4a4a" stroke-width="1"/>
<line x1="308.4" y1="293.6" x2="308.4" y2="300.7" stroke="#4a4a4a" stroke-width="1"/>
<line x1="451.0" y1="332.3" x2="306.6" y2="330.9" stroke="#4a4a4a" stroke-width="1"/>
<line x1="306.6" y1="330.9" x2="306.6" y2="335.0" stroke="#4a4a4a" stroke-width="1"/>
<line x1="484.7" y1="360.7" x2="298.6" y2="387.0" stroke="#4a4a4a" stroke-width="1"/>
<line x1="484.7" y1="360.7" x2="357.2" y2="390.7" stroke="#4a4a4a" stroke-width="1"/>
<line x1="467.9" y1="391.7" x2="281.4" y2="453.4" stroke="#4a4a4a" stroke-width="1"/>
<line x1="488.3" y1="428.0" x2="355.9" y2="493.9" stroke="#4a4a4a" stroke-width="1"/>
<line x1="482.0" y1="453.4" x2="365.5" y2="512.0" stroke="#4a4a4a" stroke-width="1"/>
<line x1="474.0" y1="479.0" x2="449.3" y2="488.8" stroke="#4a4a4a" stroke-width="1"/>
<line x1="480.0" y1="505.2" x2="408.3" y2="529.3" stroke="#4a4a4a" stroke-width="1"/>
<line x1="484.7" y1="530.4" x2="431.0" y2="530.7" stroke="#4a4a4a" stroke-width="1"/>
<line x1="437.4" y1="557.3" x2="414.6" y2="547.9" stroke="#4a4a4a" stroke-width="1"/>
<line x1="448.5" y1="587.3" x2="419.3" y2="573.9" stroke="#4a4a4a" stroke-width="1"/>
<line x1="468.8" y1="617.7" x2="331.0" y2="543.2" stroke="#4a4a4a" stroke-width="1"/>
<line x1="469.7" y1="645.8" x2="376.7" y2="583.3" stroke="#4a4a4a" stroke-width="1"/>
<line x1="463.4" y1="668.3" x2="361.0" y2="591.2" stroke="#4a4a4a" stroke-width="1"/>
<line x1="475.9" y1="702.0" x2="361.8" y2="610.1" stroke="#4a4a4a" stroke-width="1"/>
<line x1="483.0" y1="731.2" x2="333.4" y2="602.3" stroke="#4a4a4a" stroke-width="1"/>
<path d="M166.6 375.5 C169.7 370.1 178.8 351.7 185.0 343.0 C191.2 334.3 194.1 329.9 203.5 323.5 C212.9 317.1 228.5 308.6 241.6 304.4 C254.7 300.2 271.1 298.7 282.2 298.1 C293.3 297.5 299.1 299.2 308.4 300.7 C317.7 302.2 327.4 302.9 338.0 307.0 C348.6 311.1 366.5 322.5 372.2 325.6" fill="none" stroke="#4a4a4a" stroke-width="1" stroke-linecap="butt" stroke-linejoin="round"/>
<path d="M174.3 406.8 C176.2 402.8 181.1 389.7 186.0 383.0 C190.9 376.3 194.2 374.1 203.5 366.7 C212.8 359.3 230.2 344.4 241.6 338.7 C253.0 333.0 261.2 333.0 272.0 332.4 C282.8 331.8 295.6 333.1 306.6 335.0 C317.6 336.9 328.8 339.6 338.0 343.8 C347.2 348.0 357.7 357.6 361.6 360.4" fill="none" stroke="#4a4a4a" stroke-width="1" stroke-linecap="butt" stroke-linejoin="round"/>
<path d="M166.6 375.5 L166.6 370.0 L170.7 371.8 Z" fill="#2a1a2a"/>
<path d="M174.3 406.8 L174.3 401.3 L178.4 403.1 Z" fill="#2a1a2a"/>
<path d="M372.2 325.6 L366.8 324.5 L369.4 320.9 Z" fill="#2a1a2a"/>
<path d="M361.6 360.4 L356.5 358.5 L359.7 355.3 Z" fill="#2a1a2a"/>
<g transform="translate(1016 0) scale(-1 1)">
<line x1="459.0" y1="302.7" x2="308.4" y2="293.6" stroke="#4a4a4a" stroke-width="1"/>
<line x1="308.4" y1="293.6" x2="308.4" y2="300.7" stroke="#4a4a4a" stroke-width="1"/>
<line x1="451.0" y1="332.3" x2="306.6" y2="330.9" stroke="#4a4a4a" stroke-width="1"/>
<line x1="306.6" y1="330.9" x2="306.6" y2="335.0" stroke="#4a4a4a" stroke-width="1"/>
<line x1="484.7" y1="360.7" x2="298.6" y2="387.0" stroke="#4a4a4a" stroke-width="1"/>
<line x1="484.7" y1="360.7" x2="357.2" y2="390.7" stroke="#4a4a4a" stroke-width="1"/>
<line x1="467.9" y1="391.7" x2="281.4" y2="453.4" stroke="#4a4a4a" stroke-width="1"/>
<line x1="488.3" y1="428.0" x2="355.9" y2="493.9" stroke="#4a4a4a" stroke-width="1"/>
<line x1="482.0" y1="453.4" x2="365.5" y2="512.0" stroke="#4a4a4a" stroke-width="1"/>
<line x1="474.0" y1="479.0" x2="449.3" y2="488.8" stroke="#4a4a4a" stroke-width="1"/>
<line x1="480.0" y1="505.2" x2="408.3" y2="529.3" stroke="#4a4a4a" stroke-width="1"/>
<line x1="484.7" y1="530.4" x2="431.0" y2="530.7" stroke="#4a4a4a" stroke-width="1"/>
<line x1="437.4" y1="557.3" x2="414.6" y2="547.9" stroke="#4a4a4a" stroke-width="1"/>
<line x1="448.5" y1="587.3" x2="419.3" y2="573.9" stroke="#4a4a4a" stroke-width="1"/>
<line x1="468.8" y1="617.7" x2="331.0" y2="543.2" stroke="#4a4a4a" stroke-width="1"/>
<line x1="469.7" y1="645.8" x2="376.7" y2="583.3" stroke="#4a4a4a" stroke-width="1"/>
<line x1="463.4" y1="668.3" x2="361.0" y2="591.2" stroke="#4a4a4a" stroke-width="1"/>
<line x1="475.9" y1="702.0" x2="361.8" y2="610.1" stroke="#4a4a4a" stroke-width="1"/>
<line x1="483.0" y1="731.2" x2="333.4" y2="602.3" stroke="#4a4a4a" stroke-width="1"/>
<path d="M166.6 375.5 C169.7 370.1 178.8 351.7 185.0 343.0 C191.2 334.3 194.1 329.9 203.5 323.5 C212.9 317.1 228.5 308.6 241.6 304.4 C254.7 300.2 271.1 298.7 282.2 298.1 C293.3 297.5 299.1 299.2 308.4 300.7 C317.7 302.2 327.4 302.9 338.0 307.0 C348.6 311.1 366.5 322.5 372.2 325.6" fill="none" stroke="#4a4a4a" stroke-width="1" stroke-linecap="butt" stroke-linejoin="round"/>
<path d="M174.3 406.8 C176.2 402.8 181.1 389.7 186.0 383.0 C190.9 376.3 194.2 374.1 203.5 366.7 C212.8 359.3 230.2 344.4 241.6 338.7 C253.0 333.0 261.2 333.0 272.0 332.4 C282.8 331.8 295.6 333.1 306.6 335.0 C317.6 336.9 328.8 339.6 338.0 343.8 C347.2 348.0 357.7 357.6 361.6 360.4" fill="none" stroke="#4a4a4a" stroke-width="1" stroke-linecap="butt" stroke-linejoin="round"/>
<path d="M166.6 375.5 L166.6 370.0 L170.7 371.8 Z" fill="#2a1a2a"/>
<path d="M174.3 406.8 L174.3 401.3 L178.4 403.1 Z" fill="#2a1a2a"/>
<path d="M372.2 325.6 L366.8 324.5 L369.4 320.9 Z" fill="#2a1a2a"/>
<path d="M361.6 360.4 L356.5 358.5 L359.7 355.3 Z" fill="#2a1a2a"/>
</g>
<line x1="909.0" y1="383.0" x2="776.0" y2="417.6" stroke="#4a4a4a" stroke-width="1"/>
<line x1="909.0" y1="383.0" x2="831.8" y2="430.0" stroke="#4a4a4a" stroke-width="1"/>
<line x1="900.1" y1="420.3" x2="730.5" y2="515.0" stroke="#4a4a4a" stroke-width="1"/>
<line x1="909.8" y1="440.7" x2="823.0" y2="478.0" stroke="#4a4a4a" stroke-width="1"/>
<line x1="892.1" y1="469.0" x2="803.4" y2="496.5" stroke="#4a4a4a" stroke-width="1"/>
<line x1="905.4" y1="496.5" x2="784.8" y2="515.2" stroke="#4a4a4a" stroke-width="1"/>
<line x1="884.1" y1="525.8" x2="784.7" y2="531.0" stroke="#4a4a4a" stroke-width="1"/>
<line x1="892.9" y1="553.3" x2="721.8" y2="538.6" stroke="#4a4a4a" stroke-width="1"/>
<line x1="900.0" y1="577.6" x2="806.9" y2="556.4" stroke="#4a4a4a" stroke-width="1"/>
<line x1="897.3" y1="606.0" x2="781.2" y2="558.1" stroke="#4a4a4a" stroke-width="1"/>
<line x1="897.3" y1="637.9" x2="737.7" y2="564.3" stroke="#4a4a4a" stroke-width="1"/>
<line x1="890.2" y1="667.2" x2="806.9" y2="620.2" stroke="#4a4a4a" stroke-width="1"/>
<line x1="855.7" y1="684.9" x2="778.5" y2="622.9" stroke="#4a4a4a" stroke-width="1"/>
<line x1="869.6" y1="752.5" x2="791.8" y2="660.1" stroke="#4a4a4a" stroke-width="1"/>
<line x1="802.9" y1="749.0" x2="784.8" y2="701.9" stroke="#4a4a4a" stroke-width="1"/>
<line x1="757.5" y1="748.6" x2="750.2" y2="649.6" stroke="#4a4a4a" stroke-width="1"/>
<line x1="677.0" y1="748.6" x2="728.0" y2="610.5" stroke="#4a4a4a" stroke-width="1"/>
<line x1="631.8" y1="738.8" x2="682.2" y2="669.4" stroke="#4a4a4a" stroke-width="1"/>
<line x1="619.9" y1="702.5" x2="683.0" y2="631.5" stroke="#4a4a4a" stroke-width="1"/>
<text x="264.7" y="249.5" font-size="23" font-weight="bold" text-anchor="middle" textLength="91.4" lengthAdjust="spacingAndGlyphs" style="stroke-width:0.15px">right palm</text>
<text x="755.5" y="249.8" font-size="23" font-weight="bold" text-anchor="middle" textLength="78.1" lengthAdjust="spacingAndGlyphs" style="stroke-width:0.15px">left palm</text>
<text x="90.8" y="388.2" font-size="20" font-weight="normal" text-anchor="middle" textLength="25.6" lengthAdjust="spacingAndGlyphs">Ear</text>
<text x="90.8" y="416.8" font-size="20" font-weight="normal" text-anchor="middle" textLength="97.1" lengthAdjust="spacingAndGlyphs">Solar Plexus</text>
<text x="90.8" y="445.4" font-size="20" font-weight="normal" text-anchor="middle" textLength="31.5" lengthAdjust="spacingAndGlyphs">Arm</text>
<text x="90.8" y="474.0" font-size="20" font-weight="normal" text-anchor="middle" textLength="71.0" lengthAdjust="spacingAndGlyphs">Shoulder</text>
<text x="90.8" y="502.6" font-size="20" font-weight="normal" text-anchor="middle" textLength="87.0" lengthAdjust="spacingAndGlyphs">Diaphragm</text>
<text x="90.8" y="531.2" font-size="20" font-weight="normal" text-anchor="middle" textLength="61.0" lengthAdjust="spacingAndGlyphs">Adrenal</text>
<text x="90.8" y="559.8" font-size="20" font-weight="normal" text-anchor="middle" textLength="38.1" lengthAdjust="spacingAndGlyphs">Liver</text>
<text x="90.8" y="588.4" font-size="20" font-weight="normal" text-anchor="middle" textLength="94.6" lengthAdjust="spacingAndGlyphs">Gall Bladder</text>
<text x="90.8" y="617.0" font-size="20" font-weight="normal" text-anchor="middle" textLength="52.1" lengthAdjust="spacingAndGlyphs">Kidney</text>
<text x="90.8" y="645.6" font-size="20" font-weight="normal" text-anchor="middle" textLength="68.9" lengthAdjust="spacingAndGlyphs">Hip Joint</text>
<text x="90.8" y="674.2" font-size="20" font-weight="normal" text-anchor="middle" textLength="131.1" lengthAdjust="spacingAndGlyphs">Ascending Colon</text>
<text x="134.2" y="702.6" font-size="20" font-weight="normal" text-anchor="middle" textLength="72.9" lengthAdjust="spacingAndGlyphs">Appendix</text>
<text x="508.6" y="311.0" font-size="20" font-weight="normal" text-anchor="middle" textLength="86.9" lengthAdjust="spacingAndGlyphs">Head/Brain</text>
<text x="508.6" y="339.6" font-size="20" font-weight="normal" text-anchor="middle" textLength="110.0" lengthAdjust="spacingAndGlyphs">Teeth/Sinuses</text>
<text x="508.6" y="368.1" font-size="20" font-weight="normal" text-anchor="middle" textLength="36.2" lengthAdjust="spacingAndGlyphs">Eyes</text>
<text x="508.6" y="396.6" font-size="20" font-weight="normal" text-anchor="middle" textLength="74.9" lengthAdjust="spacingAndGlyphs">Trapezius</text>
<text x="508.6" y="425.2" font-size="20" font-weight="normal" text-anchor="middle" textLength="85.4" lengthAdjust="spacingAndGlyphs">Esophagus</text>
<text x="508.6" y="453.8" font-size="20" font-weight="normal" text-anchor="middle" textLength="49.7" lengthAdjust="spacingAndGlyphs">Throat</text>
<text x="508.6" y="482.3" font-size="20" font-weight="normal" text-anchor="middle" textLength="64.2" lengthAdjust="spacingAndGlyphs">Pituitary</text>
<text x="508.6" y="510.9" font-size="20" font-weight="normal" text-anchor="middle" textLength="39.0" lengthAdjust="spacingAndGlyphs">Neck</text>
<text x="508.6" y="539.4" font-size="20" font-weight="normal" text-anchor="middle" textLength="38.3" lengthAdjust="spacingAndGlyphs">Nose</text>
<text x="508.6" y="568.0" font-size="20" font-weight="normal" text-anchor="middle" textLength="133.5" lengthAdjust="spacingAndGlyphs">Thyroid/Bronchia</text>
<text x="508.6" y="596.5" font-size="20" font-weight="normal" text-anchor="middle" textLength="112.2" lengthAdjust="spacingAndGlyphs">Cervical Spine</text>
<text x="508.6" y="625.0" font-size="20" font-weight="normal" text-anchor="middle" textLength="69.0" lengthAdjust="spacingAndGlyphs">Stomach</text>
<text x="508.6" y="653.6" font-size="20" font-weight="normal" text-anchor="middle" textLength="72.2" lengthAdjust="spacingAndGlyphs">Pancreas</text>
<text x="508.6" y="682.2" font-size="20" font-weight="normal" text-anchor="middle" textLength="84.8" lengthAdjust="spacingAndGlyphs">Duodenum</text>
<text x="508.6" y="710.7" font-size="20" font-weight="normal" text-anchor="middle" textLength="60.0" lengthAdjust="spacingAndGlyphs">Bladder</text>
<text x="508.6" y="739.2" font-size="20" font-weight="normal" text-anchor="middle" textLength="47.9" lengthAdjust="spacingAndGlyphs">Ureter</text>
<text x="931.8" y="388.3" font-size="20" font-weight="normal" text-anchor="middle" textLength="24.9" lengthAdjust="spacingAndGlyphs">Ear</text>
<text x="931.8" y="416.9" font-size="20" font-weight="normal" text-anchor="middle" textLength="96.7" lengthAdjust="spacingAndGlyphs">Solar Plexus</text>
<text x="931.8" y="445.5" font-size="20" font-weight="normal" text-anchor="middle" textLength="31.9" lengthAdjust="spacingAndGlyphs">Arm</text>
<text x="931.8" y="474.1" font-size="20" font-weight="normal" text-anchor="middle" textLength="70.1" lengthAdjust="spacingAndGlyphs">Shoulder</text>
<text x="931.8" y="502.7" font-size="20" font-weight="normal" text-anchor="middle" textLength="41.7" lengthAdjust="spacingAndGlyphs">Heart</text>
<text x="931.8" y="531.3" font-size="20" font-weight="normal" text-anchor="middle" textLength="86.0" lengthAdjust="spacingAndGlyphs">Diaphragm</text>
<text x="931.8" y="559.9" font-size="20" font-weight="normal" text-anchor="middle" textLength="60.3" lengthAdjust="spacingAndGlyphs">Adrenal</text>
<text x="931.8" y="588.5" font-size="20" font-weight="normal" text-anchor="middle" textLength="37.3" lengthAdjust="spacingAndGlyphs">Liver</text>
<text x="931.8" y="617.1" font-size="20" font-weight="normal" text-anchor="middle" textLength="52.6" lengthAdjust="spacingAndGlyphs">Spleen</text>
<text x="931.8" y="645.7" font-size="20" font-weight="normal" text-anchor="middle" textLength="52.3" lengthAdjust="spacingAndGlyphs">Kidney</text>
<text x="931.8" y="674.3" font-size="20" font-weight="normal" text-anchor="middle" textLength="69.7" lengthAdjust="spacingAndGlyphs">Hip Joint</text>
<text x="931.8" y="702.9" font-size="20" font-weight="normal" text-anchor="middle" textLength="141.0" lengthAdjust="spacingAndGlyphs">Descending Colon</text>
<text x="116.2" y="768.4" font-size="20" font-weight="normal" text-anchor="middle" textLength="57.6" lengthAdjust="spacingAndGlyphs">Ovaries</text>
<text x="116.0" y="787.4" font-size="20" font-weight="normal" text-anchor="middle" textLength="56.2" lengthAdjust="spacingAndGlyphs">/Testes</text>
<text x="192.8" y="768.4" font-size="20" font-weight="normal" text-anchor="middle" textLength="47.8" lengthAdjust="spacingAndGlyphs">Lower</text>
<text x="193.1" y="787.4" font-size="20" font-weight="normal" text-anchor="middle" textLength="38.6" lengthAdjust="spacingAndGlyphs">Back</text>
<text x="266.0" y="767.6" font-size="20" font-weight="normal" text-anchor="middle" textLength="52.5" lengthAdjust="spacingAndGlyphs">Sciatic</text>
<text x="266.0" y="787.1" font-size="20" font-weight="normal" text-anchor="middle" textLength="45.2" lengthAdjust="spacingAndGlyphs">Nerve</text>
<text x="349.7" y="767.6" font-size="20" font-weight="normal" text-anchor="middle" textLength="43.9" lengthAdjust="spacingAndGlyphs">Small</text>
<text x="349.6" y="787.1" font-size="20" font-weight="normal" text-anchor="middle" textLength="70.8" lengthAdjust="spacingAndGlyphs">Intensine</text>
<text x="435.6" y="746.9" font-size="20" font-weight="normal" text-anchor="middle" textLength="64.7" lengthAdjust="spacingAndGlyphs">Prostate</text>
<text x="435.7" y="766.9" font-size="20" font-weight="normal" text-anchor="middle" textLength="57.4" lengthAdjust="spacingAndGlyphs">/Uterus</text>
<text x="435.7" y="785.9" font-size="20" font-weight="normal" text-anchor="middle" textLength="47.6" lengthAdjust="spacingAndGlyphs">/Penis</text>
<text x="604.0" y="718.8" font-size="20" font-weight="normal" text-anchor="middle" textLength="59.3" lengthAdjust="spacingAndGlyphs">Rectum</text>
<text x="595.5" y="747.4" font-size="20" font-weight="normal" text-anchor="middle" textLength="64.2" lengthAdjust="spacingAndGlyphs">Prostate</text>
<text x="594.9" y="766.2" font-size="20" font-weight="normal" text-anchor="middle" textLength="56.6" lengthAdjust="spacingAndGlyphs">/Uterus</text>
<text x="595.2" y="785.2" font-size="20" font-weight="normal" text-anchor="middle" textLength="48.8" lengthAdjust="spacingAndGlyphs">/Penis</text>
<text x="676.1" y="768.0" font-size="20" font-weight="normal" text-anchor="middle" textLength="43.2" lengthAdjust="spacingAndGlyphs">Small</text>
<text x="676.0" y="787.1" font-size="20" font-weight="normal" text-anchor="middle" textLength="70.3" lengthAdjust="spacingAndGlyphs">Intensine</text>
<text x="756.3" y="768.0" font-size="20" font-weight="normal" text-anchor="middle" textLength="52.1" lengthAdjust="spacingAndGlyphs">Sciatic</text>
<text x="756.3" y="787.1" font-size="20" font-weight="normal" text-anchor="middle" textLength="45.4" lengthAdjust="spacingAndGlyphs">Nerve</text>
<text x="827.0" y="768.3" font-size="20" font-weight="normal" text-anchor="middle" textLength="48.3" lengthAdjust="spacingAndGlyphs">Lower</text>
<text x="827.0" y="787.3" font-size="20" font-weight="normal" text-anchor="middle" textLength="37.8" lengthAdjust="spacingAndGlyphs">Back</text>
<text x="900.8" y="768.3" font-size="20" font-weight="normal" text-anchor="middle" textLength="58.0" lengthAdjust="spacingAndGlyphs">Ovaries</text>
<text x="900.4" y="787.3" font-size="20" font-weight="normal" text-anchor="middle" textLength="56.2" lengthAdjust="spacingAndGlyphs">/Testes</text>
</svg></body></html>
